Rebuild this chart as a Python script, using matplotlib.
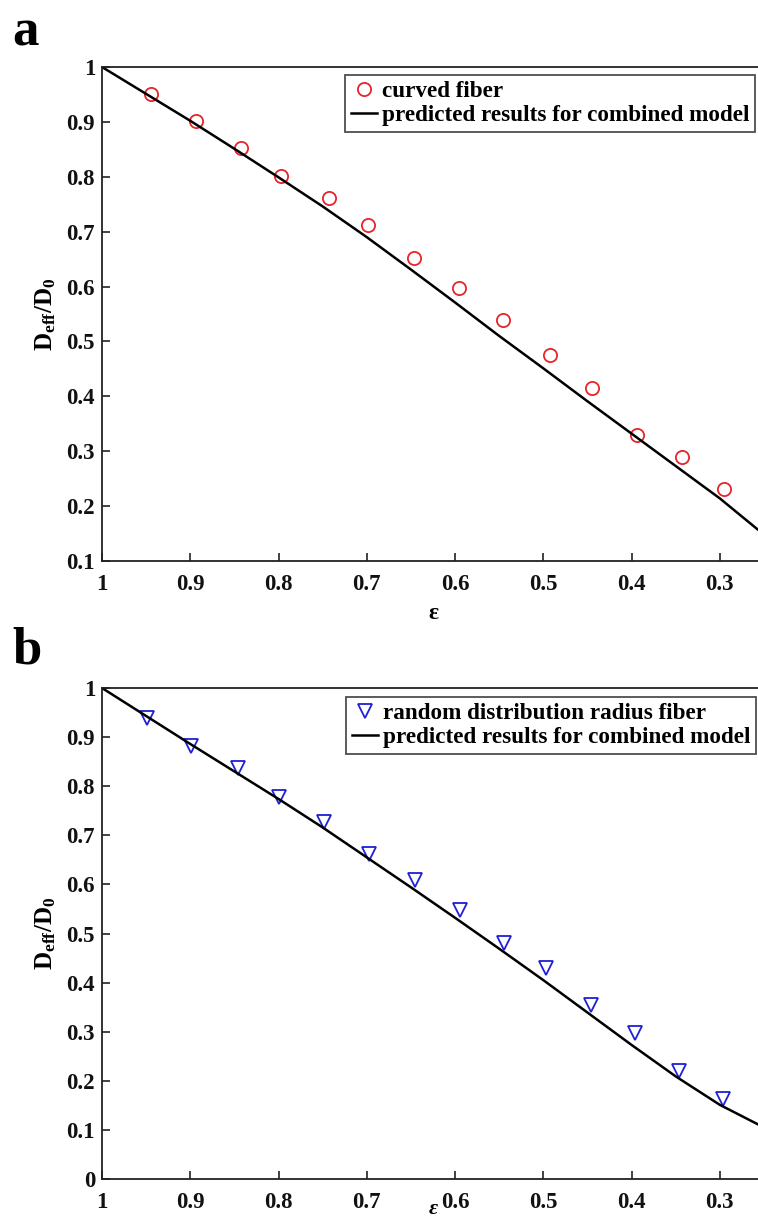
import matplotlib
matplotlib.use("Agg")
import matplotlib.pyplot as plt

plt.rcParams['font.family'] = ['Liberation Serif', 'DejaVu Serif']
plt.rcParams['font.weight'] = 'bold'
plt.rcParams['mathtext.fontset'] = 'custom'
plt.rcParams['mathtext.rm'] = 'Liberation Serif:bold'
plt.rcParams['mathtext.bf'] = 'Liberation Serif:bold'
plt.rcParams['mathtext.it'] = 'Liberation Serif:bold:italic'

# Porosity grid for the combined-model curves
eps_model = [1.00, 0.95, 0.90, 0.85, 0.80, 0.75, 0.70, 0.65, 0.60,
             0.55, 0.50, 0.45, 0.40, 0.35, 0.30, 0.25]
model_a = [1.000, 0.951, 0.902, 0.851, 0.799, 0.746, 0.690, 0.631, 0.571,
           0.510, 0.451, 0.391, 0.332, 0.273, 0.214, 0.148]
model_b = [1.000, 0.943, 0.886, 0.830, 0.774, 0.716, 0.655, 0.594, 0.532,
           0.469, 0.405, 0.339, 0.273, 0.209, 0.151, 0.105]

# Curved fiber simulations
eps_curved = [0.945, 0.893, 0.842, 0.797, 0.743, 0.699, 0.646, 0.595, 0.546,
              0.493, 0.445, 0.394, 0.343, 0.295]
deff_curved = [0.951, 0.902, 0.852, 0.802, 0.761, 0.712, 0.652, 0.598, 0.539,
               0.475, 0.416, 0.329, 0.289, 0.231]

# Random distribution radius fiber simulations
eps_random = [0.949, 0.899, 0.846, 0.799, 0.748, 0.697, 0.645, 0.594, 0.545,
              0.497, 0.446, 0.396, 0.346, 0.296]
deff_random = [0.939, 0.882, 0.838, 0.777, 0.728, 0.662, 0.608, 0.548, 0.480,
               0.430, 0.354, 0.297, 0.220, 0.163]

x_ticks = [1.0, 0.9, 0.8, 0.7, 0.6, 0.5, 0.4, 0.3]
x_ticklabels = ['1', '0.9', '0.8', '0.7', '0.6', '0.5', '0.4', '0.3']
ya_ticks = [0.1, 0.2, 0.3, 0.4, 0.5, 0.6, 0.7, 0.8, 0.9, 1.0]
ya_ticklabels = ['0.1', '0.2', '0.3', '0.4', '0.5', '0.6', '0.7', '0.8', '0.9', '1']
yb_ticks = [0.0, 0.1, 0.2, 0.3, 0.4, 0.5, 0.6, 0.7, 0.8, 0.9, 1.0]
yb_ticklabels = ['0', '0.1', '0.2', '0.3', '0.4', '0.5', '0.6', '0.7', '0.8', '0.9', '1']

W, H = 758, 1221
fig = plt.figure(figsize=(W / 100, H / 100), dpi=100)

def px_axes(x0, x1, ytop, ybot):
    return fig.add_axes([x0 / W, 1 - ybot / H, (x1 - x0) / W, (ybot - ytop) / H])

ax_a = px_axes(102, 764, 67, 561)
ax_b = px_axes(102, 764, 688, 1179)

TICK_FS = 16.5
LEG_FS = 16.7
spine_col = '#222222'

def style(ax, yticks, ylabels, ylim):
    ax.set_xlim(1.0, 0.25)
    ax.set_ylim(*ylim)
    ax.set_xticks(x_ticks)
    ax.set_xticklabels(x_ticklabels)
    ax.set_yticks(yticks)
    ax.set_yticklabels(ylabels)
    ax.tick_params(direction='in', length=6, width=1.2, colors=spine_col,
                   labelsize=TICK_FS, labelcolor='#111111', pad=5,
                   top=False, right=False)
    ax.tick_params(axis='x', pad=9)
    for s in ax.spines.values():
        s.set_linewidth(1.3)
        s.set_color(spine_col)
    for lab in ax.get_xticklabels() + ax.get_yticklabels():
        lab.set_fontweight('bold')
    ax.set_ylabel(r'D$_{\mathrm{eff}}$/D$_{\mathrm{0}}$', fontsize=18,
                  fontweight='bold')
    ax.yaxis.set_label_coords(-0.066, 0.5)

# Panel a
ax_a.plot(eps_curved, deff_curved, linestyle='none', marker='o', markersize=9.5,
          markerfacecolor='none', markeredgecolor='#e8242a', markeredgewidth=1.3,
          label='curved fiber')
ax_a.plot(eps_model, model_a, color='black', linewidth=1.8,
          label='predicted results for combined model')
style(ax_a, ya_ticks, ya_ticklabels, (0.1, 1.0))
ax_a.set_xlabel('ε', fontsize=17, fontweight='bold')
ax_a.xaxis.set_label_coords(0.5, -0.085)

# Panel b
ax_b.plot(eps_random, deff_random, linestyle='none', marker='v', markersize=10,
          markerfacecolor='none', markeredgecolor='#1f1fd6', markeredgewidth=1.3,
          label='random distribution radius fiber')
ax_b.plot(eps_model, model_b, color='black', linewidth=1.8,
          label='predicted results for combined model')
style(ax_b, yb_ticks, yb_ticklabels, (0.0, 1.0))
ax_b.set_xlabel('ε', fontsize=16, fontweight='bold', fontstyle='italic')
ax_b.xaxis.set_label_coords(0.5, -0.040)

for ax, anchor in ((ax_a, (0.9864, 0.9838)), (ax_b, (0.988, 0.9823))):
    leg = ax.legend(loc='upper right', bbox_to_anchor=anchor, borderaxespad=0,
                    frameon=True, fancybox=False,
                    handlelength=1.1, handletextpad=0.22, borderpad=0.25,
                    labelspacing=0.12, prop={'weight': 'bold', 'size': LEG_FS})
    leg.get_frame().set_edgecolor(spine_col)
    leg.get_frame().set_linewidth(1.3)

fig.text(12 / W, 1 - 45 / H, 'a', fontsize=38, fontweight='bold', va='baseline')
fig.text(12 / W, 1 - 663 / H, 'b', fontsize=38, fontweight='bold', va='baseline')

fig.savefig('out.png', dpi=100)
